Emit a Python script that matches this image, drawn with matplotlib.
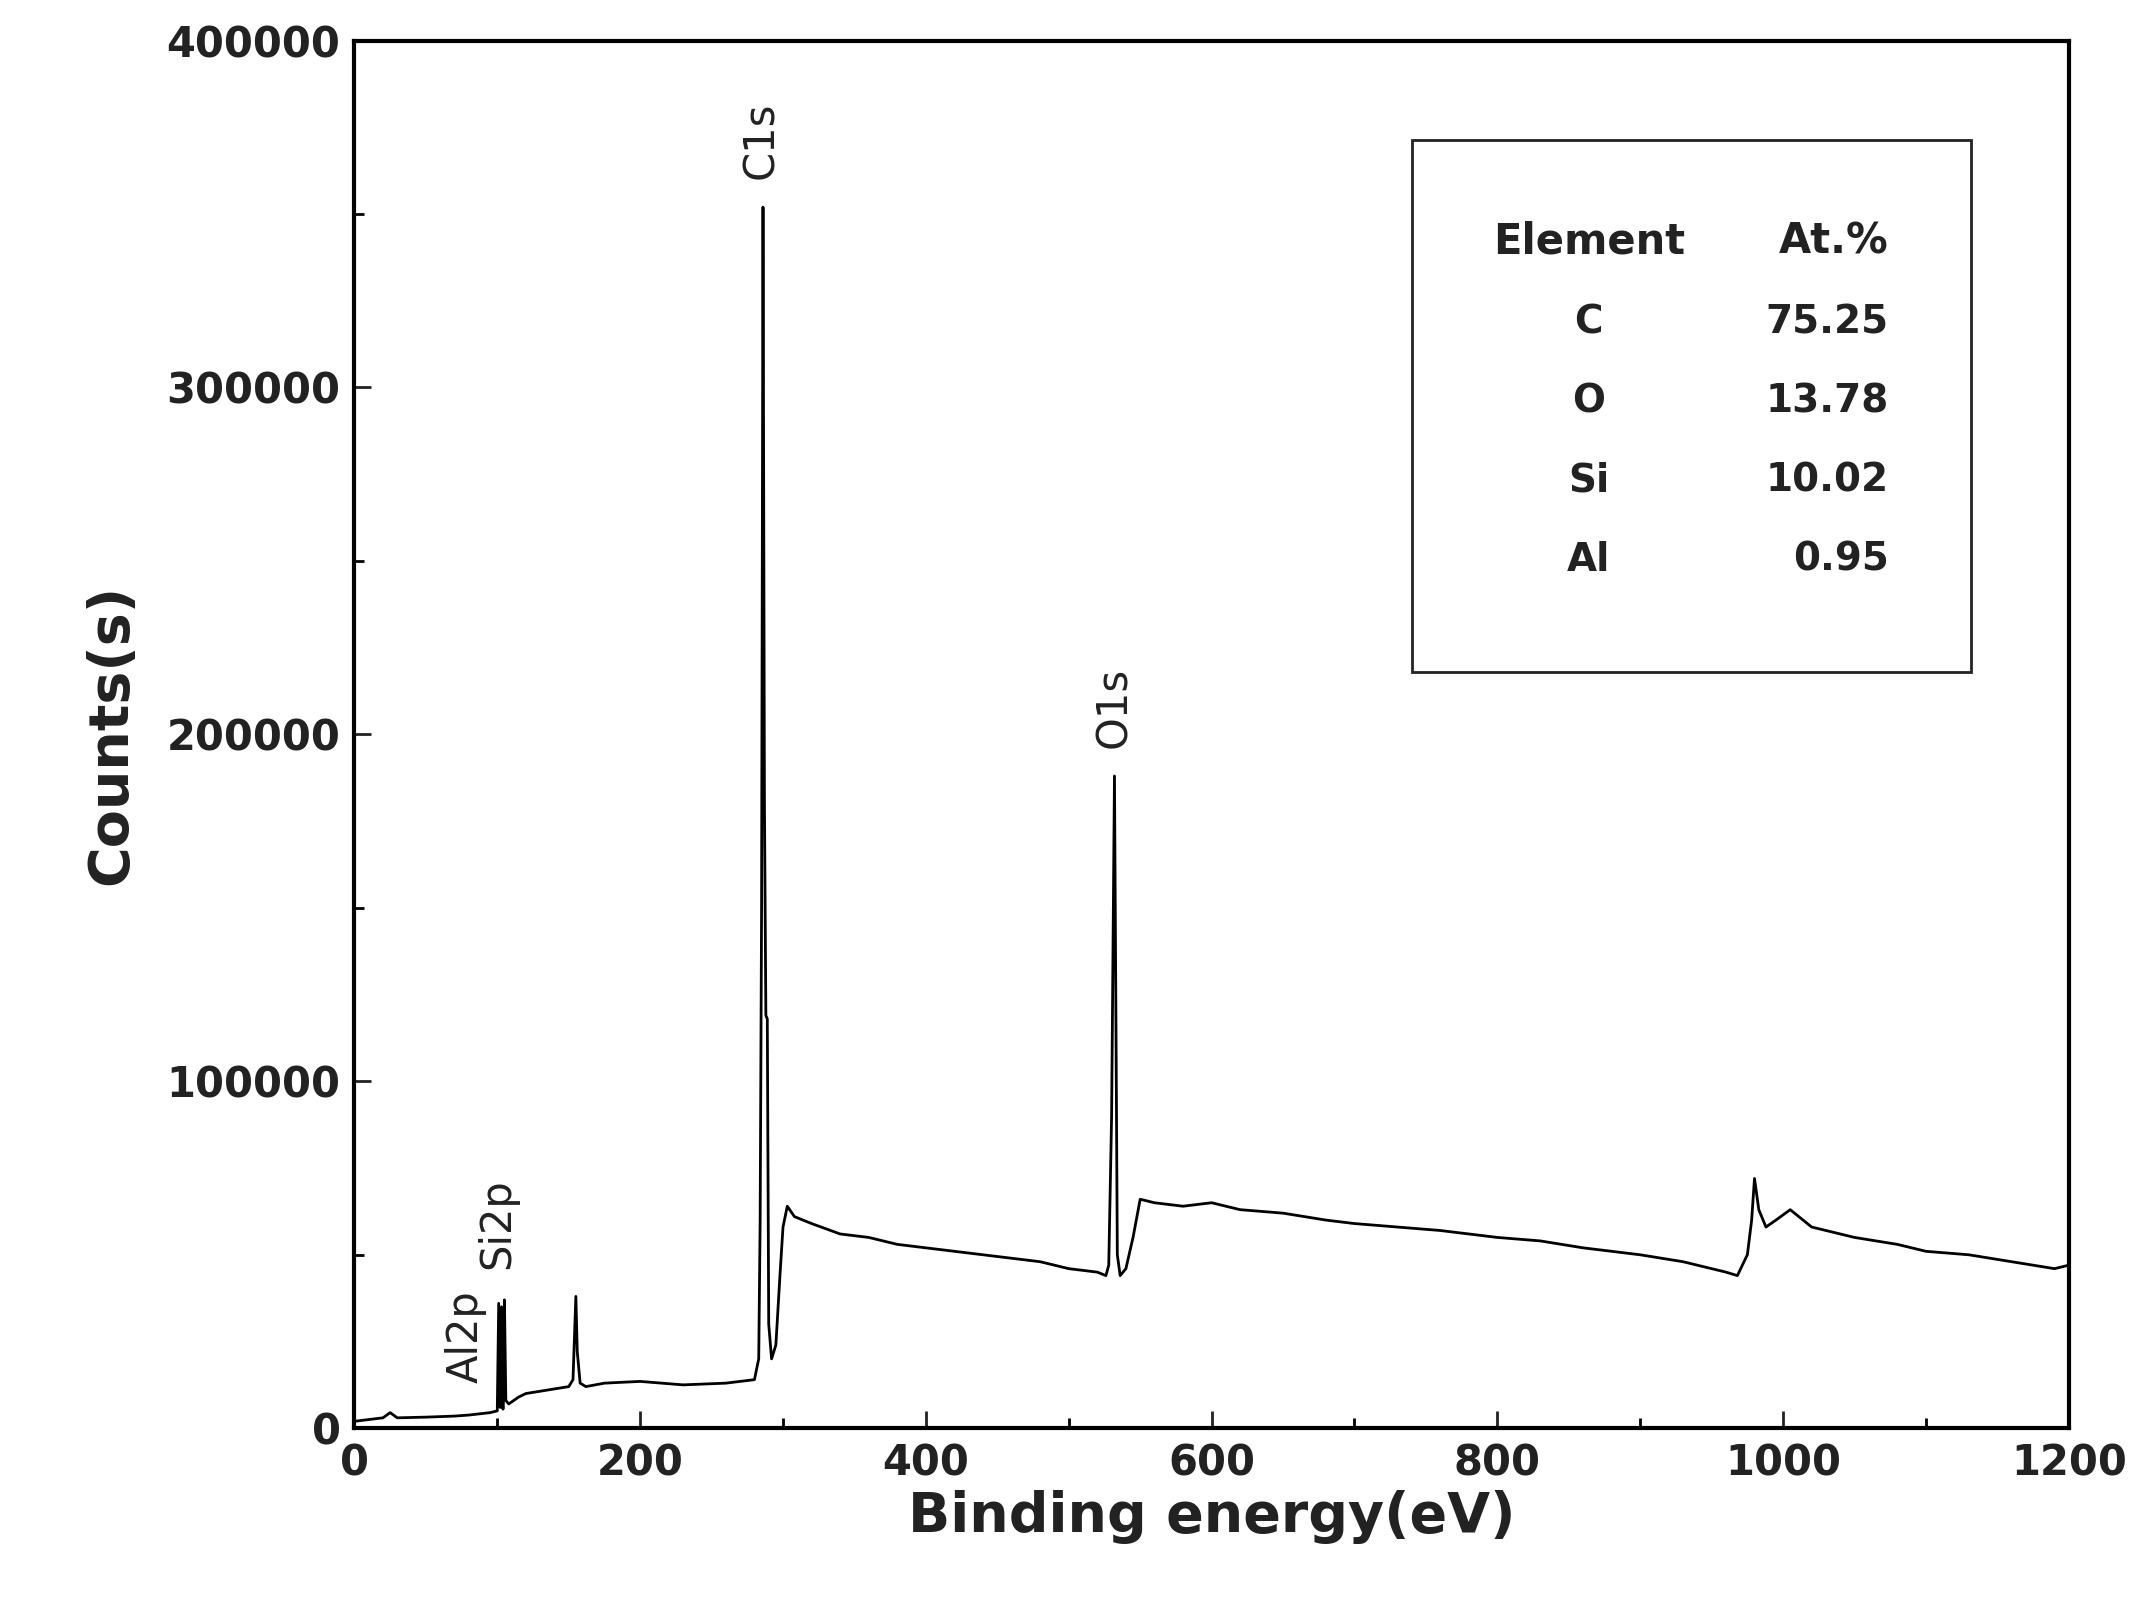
import matplotlib.pyplot as plt
from matplotlib.ticker import MultipleLocator

# survey spectrum
energy = [0, 10, 20, 25, 30, 50, 70, 80, 95, 100, 101, 102, 103, 104, 105, 106, 108, 115, 120, 135,
          150, 153, 155, 156, 158, 162, 175, 200, 230, 260, 280, 283, 284, 285, 286, 287, 288, 289,
          290, 292, 295, 298, 300, 303, 308, 320, 340, 360, 380, 400, 420, 440, 460, 480, 500,
          520, 526, 528, 530, 532, 533, 534, 536, 540, 545, 550, 560, 580, 600, 620, 650, 680,
          700, 730, 760, 800, 830, 860, 900, 930, 960, 968, 975, 978, 980, 983, 988, 995, 1005,
          1020, 1050, 1080, 1100, 1130, 1160, 1190, 1200]
counts = [2000, 2500, 3000, 4500, 3000, 3200, 3500, 3800, 4500, 5000, 36000, 6000, 35000, 5500, 37000,
          8000, 7000, 9000, 10000, 11000, 12000, 14000, 38000, 22000, 13000, 12000, 13000, 13500,
          12500, 13000, 14000, 20000, 60000, 150000, 352000, 180000, 119000, 118000, 30000, 20000,
          24000, 45000, 58000, 64000, 61000, 59000, 56000, 55000, 53000, 52000, 51000, 50000, 49000,
          48000, 46000, 45000, 44000, 47000, 90000, 188000, 120000, 50000, 44000, 46000, 55000,
          66000, 65000, 64000, 65000, 63000, 62000, 60000, 59000, 58000, 57000, 55000, 54000, 52000,
          50000, 48000, 45000, 44000, 50000, 60000, 72000, 63000, 58000, 60000, 63000, 58000, 55000,
          53000, 51000, 50000, 48000, 46000, 47000]

peak_names = ["Al2p", "Si2p", "C1s", "O1s"]
peak_x = [78, 100, 285, 532]
peak_y = [5000, 38000, 352000, 188000]

elements = ["C", "O", "Si", "Al"]
at_pct = ["75.25", "13.78", "10.02", "0.95"]

plt.rcParams['font.family'] = ['DejaVu Sans']
plt.rcParams['font.weight'] = 'bold'
ink = '#222222'

fig = plt.figure(figsize=(21.35, 16.23), dpi=100)
ax = fig.add_axes([0.166, 0.12, 0.803, 0.855])
ax.plot(energy, counts, color='black', lw=2)
ax.set_xlim(0, 1200)
ax.set_ylim(0, 400000)
ax.xaxis.set_major_locator(MultipleLocator(200))
ax.xaxis.set_minor_locator(MultipleLocator(100))
ax.yaxis.set_major_locator(MultipleLocator(100000))
ax.yaxis.set_minor_locator(MultipleLocator(50000))
ax.tick_params(which='both', direction='in', width=2, top=False, right=False)
ax.tick_params(which='major', length=12, labelsize=30, pad=10, colors=ink)
ax.tick_params(which='minor', length=7)
for s in ax.spines.values():
    s.set_linewidth(3)
ax.set_xlabel("Binding energy(eV)", fontsize=40, fontweight='bold', color=ink)
ax.set_ylabel("Counts(s)", fontsize=40, fontweight='bold', color=ink, labelpad=20)

#peak labels
for name, x, y in zip(peak_names, peak_x, peak_y):
    ax.text(x, y + 8000, name, rotation=90, ha='center', va='bottom', fontsize=30,
            fontweight='normal', color=ink)

#composition table
ax.add_patch(plt.Rectangle((0.617, 0.545), 0.326, 0.383, transform=ax.transAxes,
                           fill=False, lw=2, color=ink))
ax.text(0.72, 0.855, "Element", transform=ax.transAxes, ha='center', va='center', fontsize=30, color=ink)
ax.text(0.895, 0.855, "At.%", transform=ax.transAxes, ha='right', va='center', fontsize=30, color=ink)
for i, (el, p) in enumerate(zip(elements, at_pct)):
    yy = 0.797 - i * 0.057
    ax.text(0.72, yy, el, transform=ax.transAxes, ha='center', va='center', fontsize=28, color=ink)
    ax.text(0.895, yy, p, transform=ax.transAxes, ha='right', va='center', fontsize=28, color=ink)

fig.savefig("out.png")
